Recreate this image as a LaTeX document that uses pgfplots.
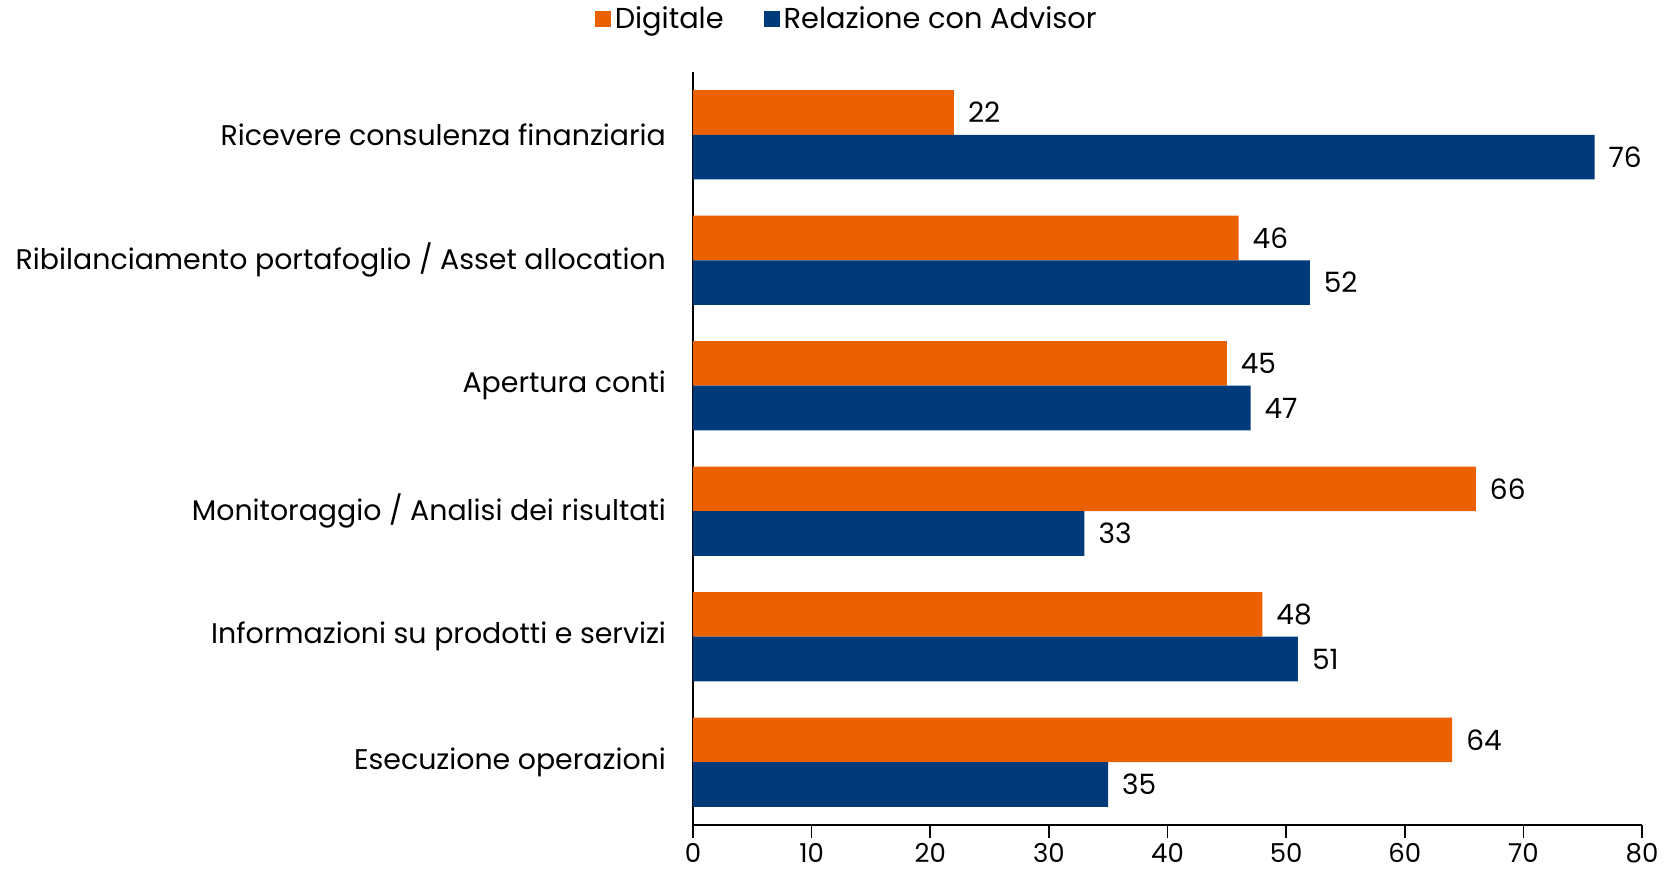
\documentclass[border=0pt]{standalone}
\usepackage{fontspec}
\setmainfont{Poppins}
\usepackage{pgfplots}
\pgfplotsset{compat=1.18}
\definecolor{dig}{HTML}{EB6100}
\definecolor{adv}{HTML}{003A7A}
\begin{document}
\begin{tikzpicture}
\path[use as bounding box] (-346.5pt,-26pt) rectangle (488.5pt,412.5pt);
\begin{axis}[
  at={(0pt,0pt)}, anchor=south west,
  scale only axis, width=474.5pt, height=376.5pt,
  xmin=0, xmax=80, ymin=-0.5, ymax=5.5,
  axis x line*=bottom, axis y line*=left,
  axis line style={-, line width=1pt, black},
  xtick={0,10,...,80},
  ytick={0,1,2,3,4,5},
  yticklabels={Esecuzione operazioni, Informazioni su prodotti e servizi, Monitoraggio / Analisi dei risultati, Apertura conti, Ribilanciamento portafoglio / Asset allocation, Ricevere consulenza finanziaria},
  ytick style={draw=none},
  xtick style={black, line width=0.8pt},
  tick align=outside, major tick length=6.5pt,
  xticklabel style={font=\fontsize{13}{14}\selectfont, yshift=-1.5pt, inner sep=1pt},
  yticklabel style={font=\fontsize{14.2}{16}\selectfont, xshift=-3.5pt},
  /pgf/number format/assume math mode=true,
  xbar, bar width=22.35pt,
  nodes near coords,
  every node near coord/.append style={font=\fontsize{14}{16}\selectfont, black, xshift=3.5pt},
  legend style={at={(0.163,1.07)}, anchor=center, draw=none, fill=none, legend columns=2,
    font=\fontsize{14.4}{16}\selectfont,
    /tikz/every even column/.append style={column sep=18pt}},
  legend image code/.code={\fill[#1, draw=none] (0pt,-4pt) rectangle (8pt,4pt);},
]
\addplot[fill=dig, draw=none, bar shift=11.175pt] coordinates {(64,0) (48,1) (66,2) (45,3) (46,4) (22,5)};
\addplot[fill=adv, draw=none, bar shift=-11.175pt] coordinates {(35,0) (51,1) (33,2) (47,3) (52,4) (76,5)};
\legend{Digitale, Relazione con Advisor}
\end{axis}
\end{tikzpicture}
\end{document}
